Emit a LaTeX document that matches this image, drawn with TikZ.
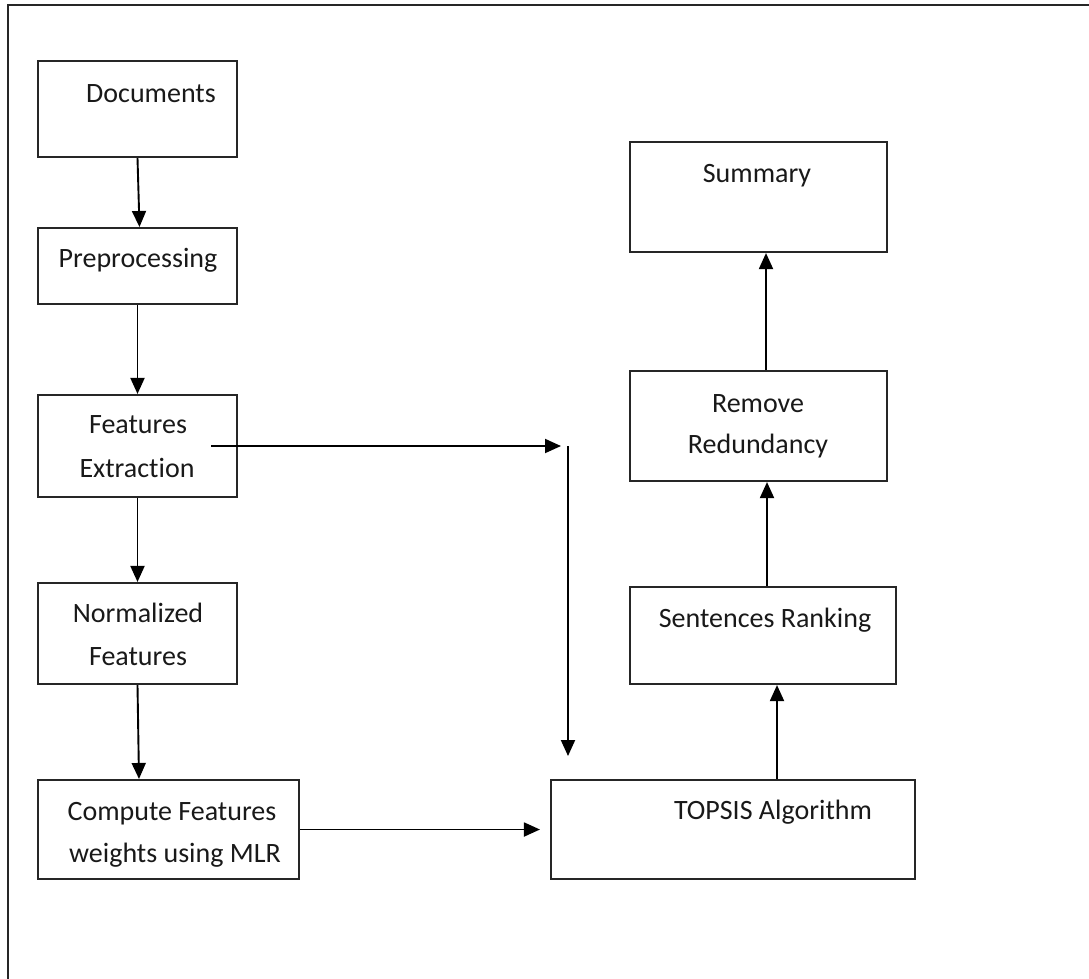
\documentclass[tikz,border=0pt]{standalone}
\usepackage{fontspec}
\setmainfont[Ligatures={NoCommon}]{Carlito}
\usetikzlibrary{arrows.meta,calc}
\begin{document}
\begin{tikzpicture}[x=1pt,y=-1pt,
  box/.style={draw=black!85,line width=2.1pt,rectangle,inner sep=0pt,fill=none},
  txt/.style={anchor=base,inner sep=0pt,font=\fontsize{28}{34}\selectfont,text=black!90},
  arr/.style={line width=1.9pt,-{Triangle[length=16pt,width=14pt]}}]
\useasboundingbox (0,0) rectangle (1089,978);
\begin{scope}
\clip (0,0) rectangle (1089,978);
\draw[line width=2.1pt,draw=black!85] (8,5) rectangle (1110,1000);
\end{scope}
% boxes
\node[box,minimum width=199pt,minimum height=96pt] (doc) at (137.5,109) {};
\node[box,minimum width=199pt,minimum height=76pt] (pre) at (137.5,266) {};
\node[box,minimum width=199pt,minimum height=102pt] (fe) at (137.5,446) {};
\node[box,minimum width=199pt,minimum height=101pt] (nf) at (137.5,633.5) {};
\node[box,minimum width=261pt,minimum height=99pt] (cw) at (168.5,829.5) {};
\node[box,minimum width=364pt,minimum height=99pt] (tp) at (733,829.5) {};
\node[box,minimum width=266pt,minimum height=97pt] (sr) at (763,635.5) {};
\node[box,minimum width=257pt,minimum height=110pt] (rr) at (758.5,426) {};
\node[box,minimum width=257pt,minimum height=110pt] (sm) at (758.5,197) {};
% texts
\node[txt] (tdoc) at (151,102) {Documents};
\node[txt] (tpre) at (138,267) {Preprocessing};
\node[txt] (tfe1) at (138,433) {Features};
\node[txt] (tfe2) at (137,477) {Extraction};
\node[txt] (tnf1) at (138,622) {Normalized};
\node[txt] (tnf2) at (138,665) {Features};
\node[txt] (tcw1) at (172,820) {Compute Features};
\node[txt] (tcw2) at (175,862) {weights using MLR};
\node[txt] (ttp) at (773,819) {TOPSIS Algorithm};
\node[txt] (tsr) at (765,627) {Sentences Ranking};
\node[txt] (trr1) at (758,412) {Remove};
\node[txt] (trr2) at (758,453) {Redundancy};
\node[txt] (tsm) at (757,182) {Summary};
% connectors
\draw[arr] (doc.south) -- ([xshift=2pt]pre.north);
\draw[arr] (pre.south) -- (fe.north);
\draw[arr] (fe.south) -- (nf.north);
\draw[arr] (nf.south) -- ([xshift=-29.5pt]cw.north);
\coordinate (fs) at ([xshift=-27pt]fe.east);
\coordinate (j1) at (561,446);
\coordinate (j2) at (568,446);
\coordinate (j3) at (568,756);
\draw[arr] (fs) -- (j1);
\draw[arr] (j2) -- (j3);
\draw[arr] (cw.east) -- ([xshift=-10pt]tp.west);
\draw[arr] ([xshift=44pt]tp.north) -- ([xshift=14pt]sr.south);
\draw[arr] ([xshift=4pt]sr.north) -- ([xshift=8.5pt]rr.south);
\draw[arr] ([xshift=7.5pt]rr.north) -- ([xshift=7.5pt]sm.south);
\end{tikzpicture}
\end{document}
